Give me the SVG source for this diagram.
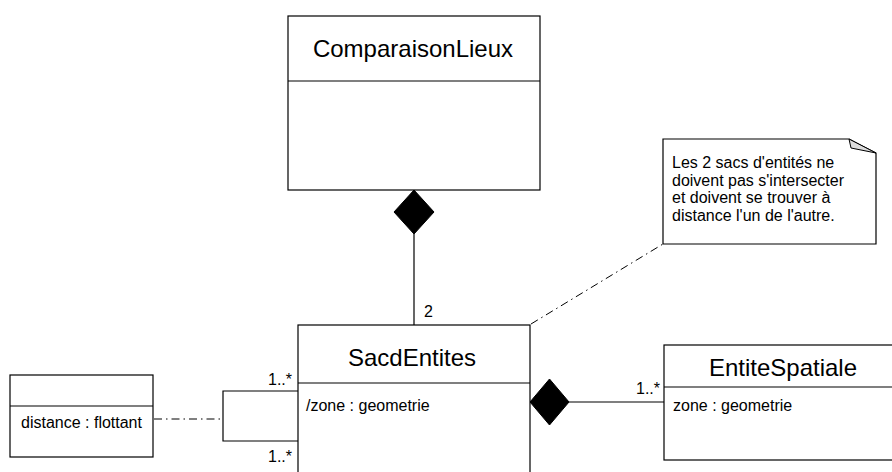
<svg xmlns="http://www.w3.org/2000/svg" width="892" height="472" viewBox="0 0 892 472">
  <defs>
    <style>
      .box { fill: #ffffff; stroke: #000000; stroke-width: 1.2; }
      .sep { stroke: #000000; stroke-width: 1.2; fill: none; }
      .line { stroke: #000000; stroke-width: 1.2; fill: none; }
      .dashdot { stroke: #000000; stroke-width: 1; fill: none; stroke-dasharray: 8 4 1.5 4; }
      .title { font-family: "Liberation Sans", Arial, sans-serif; font-size: 24px; fill: #000000; text-anchor: middle; }
      .attr { font-family: "Liberation Sans", Arial, sans-serif; font-size: 16px; fill: #000000; }
      .mult { font-family: "Liberation Sans", Arial, sans-serif; font-size: 16px; fill: #000000; }
      .diamond { fill: #000000; stroke: #000000; stroke-width: 1; }
    </style>
  </defs>

  <rect width="892" height="472" fill="#ffffff"/>

  <!-- connectors -->
  <g id="connectors">
    <!-- composition ComparaisonLieux -> SacdEntites -->
    <line class="line" x1="414" y1="234" x2="414" y2="325"/>
    <polygon class="diamond" points="414,190 434,212 414,234 394,212"/>
    <text class="mult" x="424" y="317">2</text>

    <!-- composition SacdEntites -> EntiteSpatiale -->
    <line class="line" x1="569" y1="402" x2="664" y2="402"/>
    <polygon class="diamond" points="530,402 549.5,379 569,402 549.5,425"/>
    <text class="mult" x="660" y="394" text-anchor="end">1..*</text>

    <!-- reflexive association on SacdEntites -->
    <polyline class="line" points="298,391 223,391 223,441 298,441"/>
    <text class="mult" x="292" y="385" text-anchor="end">1..*</text>
    <text class="mult" x="292" y="462" text-anchor="end">1..*</text>

    <!-- association class link -->
    <line class="dashdot" x1="154" y1="419" x2="223" y2="419"/>

    <!-- note anchor -->
    <line class="dashdot" x1="531" y1="324" x2="663" y2="244"/>
  </g>

  <!-- ComparaisonLieux -->
  <g id="ComparaisonLieux">
    <rect class="box" x="288" y="16" width="252" height="174"/>
    <line class="sep" x1="288" y1="81" x2="540" y2="81"/>
    <text class="title" x="413" y="57">ComparaisonLieux</text>
  </g>

  <!-- SacdEntites -->
  <g id="SacdEntites">
    <rect class="box" x="298" y="325" width="232" height="160"/>
    <line class="sep" x1="298" y1="383" x2="530" y2="383"/>
    <text class="title" x="412" y="366">SacdEntites</text>
    <text class="attr" x="306" y="411">/zone : geometrie</text>
  </g>

  <!-- EntiteSpatiale -->
  <g id="EntiteSpatiale">
    <rect class="box" x="664" y="345" width="238" height="115"/>
    <line class="sep" x1="664" y1="387" x2="902" y2="387"/>
    <text class="title" x="783" y="376">EntiteSpatiale</text>
    <text class="attr" x="673" y="411">zone : geometrie</text>
  </g>

  <!-- association class -->
  <g id="AssociationDistance">
    <rect class="box" x="10" y="375" width="143" height="82"/>
    <line class="sep" x1="10" y1="406" x2="153" y2="406"/>
    <text class="attr" x="21" y="428">distance : flottant</text>
  </g>

  <!-- constraint note -->
  <g id="NoteContrainte">
    <polygon class="box" points="663,139 849,139 876,153 876,244 663,244"/>
    <polygon points="849,139 876,153 851,148" fill="#dcdcdc" stroke="#000000" stroke-width="1"/>
    <text class="attr" x="672" y="168">Les 2 sacs d'entités ne</text>
    <text class="attr" x="672" y="186">doivent pas s'intersecter</text>
    <text class="attr" x="672" y="203">et doivent se trouver à</text>
    <text class="attr" x="672" y="221">distance l'un de l'autre.</text>
  </g>
</svg>
